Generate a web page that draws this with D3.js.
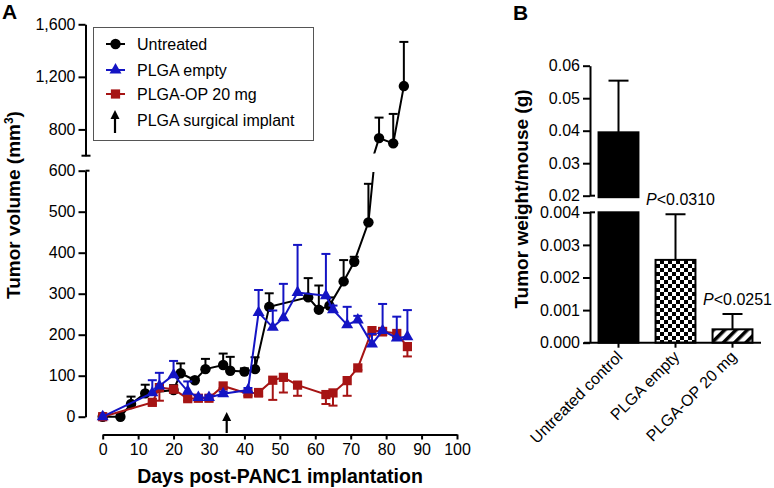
<!DOCTYPE html>
<html><head><meta charset="utf-8">
<script src="https://cdn.jsdelivr.net/npm/d3@7"></script>
<style>
body{margin:0;background:#fff;}
svg{display:block;font-family:"Liberation Sans",Arial,sans-serif;}
</style></head>
<body><svg id="c" width="774" height="488"></svg>
<script>
// ---------- Data: panel A (tumor volume, mm³) ----------
const daysUntreated = [0,5,8,12,20,22,26,29,34,36,40,43,47,58,61,64,68,71,75,78,82,85];
const volUntreated  = [0,0,31,57,65,106,89,116,126,112,110,116,268,291,261,271,330,378,474,734,694,1130];
const errUntreated  = [0,0,18,21,12,24,6,25,28,34,8,29,33,47,59,20,52,12,94,156,224,336];

const daysEmpty = [0,14,16,20,24,27,30,34,41,44,48,51,55,63,65,69,72,76,79,83,86];
const volEmpty  = [0,58,75,102,62,47,47,56,65,254,218,241,303,295,261,224,236,177,210,192,195];
const errEmpty  = [0,31,32,34,24,5,5,5,5,55,41,83,116,102,10,44,10,25,65,52,65];

const daysOP = [0,14,16,20,24,27,30,34,41,44,48,51,55,63,65,69,72,76,79,83,86];
const volOP  = [0,35,71,67,44,45,45,75,56,59,89,96,77,54,58,88,119,210,208,203,171];
const errOP  = [0,5,32,5,5,5,5,5,5,10,48,37,26,23,31,37,5,10,10,10,24];

const seriesNames = ["Untreated","PLGA empty","PLGA-OP 20 mg"];
const implantDay = 35;
const xTicksA = [0,10,20,30,40,50,60,70,80,90,100];
const yTicksLowA = [0,100,200,300,400,500,600];
const yTicksHighA = [800,1200,1600];

// ---------- Data: panel B (tumor weight, g) ----------
const groupsB = ["Untreated control","PLGA empty","PLGA-OP 20 mg"];
const weightB = [0.0395,0.00254,0.00041];
const errB    = [0.0159,0.0014,0.00047];
const pLabelsB = ["","0.0310","0.0251"];
const yTicksHighB = [0.02,0.03,0.04,0.05,0.06];
const yTicksLowB = [0,0.001,0.002,0.003,0.004];

// ---------- Drawing ----------
const svg = d3.select("#c");
const BLUE = "#1414c4", RED = "#a61414";
const defs = svg.append("defs");

// Panel A scales
const xA = d3.scaleLinear([0,100],[102.7,457]);
const yLowA = d3.scaleLinear([0,600],[416.7,170.7]);
const yHighA = d3.scaleLinear([600,1600],[155.7,24.3]);
const axisXA = 85.5;

defs.append("clipPath").attr("id","clipLowA").append("rect")
  .attr("x",90).attr("y",172).attr("width",380).attr("height",262);
defs.append("clipPath").attr("id","clipHighA").append("rect")
  .attr("x",90).attr("y",10).attr("width",380).attr("height",143.5);

// Panel A axes
const gA = svg.append("g");
const xAxisA = gA.append("g").attr("transform","translate(0,434.5)")
  .call(d3.axisBottom(xA).tickValues(xTicksA).tickSize(5).tickSizeOuter(0).tickPadding(4));
const yLowAxis = gA.append("g").attr("transform",`translate(${axisXA},0)`)
  .call(d3.axisLeft(yLowA).tickValues(yTicksLowA).tickSize(7).tickSizeOuter(0).tickPadding(3));
const yHighAxis = gA.append("g").attr("transform",`translate(${axisXA},0)`)
  .call(d3.axisLeft(yHighA).tickValues(yTicksHighA).tickFormat(d3.format(",")).tickSize(7).tickSizeOuter(0).tickPadding(3));
// break marks
gA.append("line").attr("x1",axisXA-4).attr("x2",axisXA+5).attr("y1",yHighA(600)).attr("y2",yHighA(600));
gA.append("line").attr("x1",axisXA).attr("x2",axisXA+4).attr("y1",yLowA(600)).attr("y2",yLowA(600));
gA.selectAll("line").attr("stroke","#000").attr("stroke-width",2);

function styleAxis(g){
  g.selectAll("path.domain").attr("stroke","#000").attr("stroke-width",2);
  g.selectAll(".tick line").attr("stroke","#000").attr("stroke-width",2);
  g.selectAll(".tick text").attr("font-size",16).attr("fill","#000")
   .attr("font-family","'Liberation Sans',Arial,sans-serif");
}
[xAxisA,yLowAxis,yHighAxis].forEach(styleAxis);

// Titles panel A
svg.append("text").attr("x",2).attr("y",19).attr("font-size",21).attr("font-weight","bold").text("A");
svg.append("text").attr("x",280).attr("y",483).attr("text-anchor","middle")
  .attr("font-size",19.5).attr("font-weight","bold").text("Days post-PANC1 implantation");
const yt = svg.append("text").attr("transform","translate(20,205) rotate(-90)")
  .attr("text-anchor","middle").attr("font-size",19).attr("font-weight","bold");
yt.append("tspan").text("Tumor volume (mm");
yt.append("tspan").attr("font-size",12).attr("dy",-7).text("3");
yt.append("tspan").attr("dy",7).text(")");

// series drawing
const series = [
  {name:seriesNames[0], days:daysUntreated, vals:volUntreated, errs:errUntreated, color:"#000", sym:d3.symbolCircle, size:85, dir:1},
  {name:seriesNames[2], days:daysOP, vals:volOP, errs:errOP, color:RED, sym:d3.symbolSquare, size:85, dir:-1},
  {name:seriesNames[1], days:daysEmpty, vals:volEmpty, errs:errEmpty, color:BLUE, sym:d3.symbolTriangle, size:62, dir:1},
];
function yOf(v){ return v<=600 ? yLowA(v) : yHighA(v); }
const plot = svg.append("g");
series.forEach(s=>{
  const pts = s.days.map((d,i)=>({d, v:s.vals[i], e:s.errs[i]}));
  const g = plot.append("g");
  // error bars
  pts.forEach(p=>{
    if(p.e<=0) return;
    const tip = p.v + s.dir*p.e;
    const sc = p.v<=600 ? yLowA : yHighA;
    const x = xA(p.d);
    g.append("line").attr("x1",x).attr("x2",x).attr("y1",sc(p.v)).attr("y2",sc(tip))
      .attr("stroke",s.color).attr("stroke-width",2);
    g.append("line").attr("x1",x-4.5).attr("x2",x+4.5).attr("y1",sc(tip)).attr("y2",sc(tip))
      .attr("stroke",s.color).attr("stroke-width",2);
  });
  // lines (broken axis)
  const lowLine = d3.line().x(p=>xA(p.d)).y(p=>yLowA(p.v));
  const highLine = d3.line().x(p=>xA(p.d)).y(p=>yHighA(p.v));
  g.append("path").attr("d",lowLine(pts)).attr("fill","none").attr("stroke",s.color)
    .attr("stroke-width",2).attr("clip-path","url(#clipLowA)");
  if(pts.some(p=>p.v>600)){
    g.append("path").attr("d",highLine(pts)).attr("fill","none").attr("stroke",s.color)
      .attr("stroke-width",2).attr("clip-path","url(#clipHighA)");
  }
  // markers
  g.selectAll("path.m").data(pts).join("path").attr("class","m")
    .attr("d",d3.symbol(s.sym,s.size))
    .attr("transform",p=>`translate(${xA(p.d)},${yOf(p.v)})`)
    .attr("fill",s.color);
});

// implant arrow
function arrow(g,x,yTop,yBot){
  g.append("line").attr("x1",x).attr("x2",x).attr("y1",yTop+6).attr("y2",yBot)
    .attr("stroke","#000").attr("stroke-width",2.2);
  g.append("path").attr("d",`M${x},${yTop} L${x-4.5},${yTop+9} L${x+4.5},${yTop+9} Z`).attr("fill","#000");
}
arrow(svg,xA(implantDay),412,433);

// legend
const lg = svg.append("g");
lg.append("rect").attr("x",93.5).attr("y",27.5).attr("width",220).attr("height",113)
  .attr("fill","#fff").attr("stroke","#555").attr("stroke-width",1);
const legendItems = [
  {label:seriesNames[0], color:"#000", sym:d3.symbolCircle, size:85, y:44},
  {label:seriesNames[1], color:BLUE, sym:d3.symbolTriangle, size:62, y:70},
  {label:seriesNames[2], color:RED, sym:d3.symbolSquare, size:85, y:94},
];
legendItems.forEach(it=>{
  lg.append("line").attr("x1",106).attr("x2",125).attr("y1",it.y).attr("y2",it.y)
    .attr("stroke",it.color).attr("stroke-width",2);
  lg.append("path").attr("d",d3.symbol(it.sym,it.size)).attr("transform",`translate(115.5,${it.y})`).attr("fill",it.color);
  lg.append("text").attr("x",137).attr("y",it.y+6).attr("font-size",16).text(it.label);
});
arrow(lg,115,110,133);
lg.append("text").attr("x",137).attr("y",126).attr("font-size",16).text("PLGA surgical implant");

// ---------- Panel B ----------
const axisXB = 590;
const xB = d3.scaleBand(groupsB,[590,761]).paddingInner(0.3).paddingOuter(0.15);
const yHighB = d3.scaleLinear([0.02,0.06],[195.7,65.7]);
const yLowB = d3.scaleLinear([0,0.004],[342.7,212.3]);

// patterns
const chk = defs.append("pattern").attr("id","checker").attr("patternUnits","userSpaceOnUse")
  .attr("width",8).attr("height",8);
chk.append("rect").attr("width",8).attr("height",8).attr("fill","#fff");
chk.append("rect").attr("width",4).attr("height",4).attr("fill","#000");
chk.append("rect").attr("x",4).attr("y",4).attr("width",4).attr("height",4).attr("fill","#000");
const str = defs.append("pattern").attr("id","stripes").attr("patternUnits","userSpaceOnUse")
  .attr("width",8).attr("height",8).attr("patternTransform","rotate(45)");
str.append("rect").attr("width",8).attr("height",8).attr("fill","#fff");
str.append("rect").attr("width",3.5).attr("height",8).attr("fill","#000");
const fillsB = ["#000","url(#checker)","url(#stripes)"];

const gB = svg.append("g");
groupsB.forEach((g,i)=>{
  const x0 = xB(g), w = xB.bandwidth(), v = weightB[i];
  if(v>0.004){
    gB.append("rect").attr("x",x0).attr("y",yHighB(v)).attr("width",w).attr("height",yHighB(0.02)-yHighB(v)+1.5)
      .attr("fill",fillsB[i]).attr("stroke","#000").attr("stroke-width",2);
    gB.append("rect").attr("x",x0).attr("y",yLowB(0.004)).attr("width",w).attr("height",yLowB(0)-yLowB(0.004))
      .attr("fill",fillsB[i]).attr("stroke","#000").attr("stroke-width",2);
  } else {
    gB.append("rect").attr("x",x0).attr("y",yLowB(v)).attr("width",w).attr("height",yLowB(0)-yLowB(v))
      .attr("fill",fillsB[i]).attr("stroke","#000").attr("stroke-width",2);
  }
  const sc = v>0.004 ? yHighB : yLowB;
  const cx = x0 + w/2, tip = v + errB[i];
  gB.append("line").attr("x1",cx).attr("x2",cx).attr("y1",sc(v)).attr("y2",sc(tip)).attr("stroke","#000").attr("stroke-width",2);
  gB.append("line").attr("x1",cx-10).attr("x2",cx+10).attr("y1",sc(tip)).attr("y2",sc(tip)).attr("stroke","#000").attr("stroke-width",2);
  if(pLabelsB[i]){
    const t = gB.append("text").attr("x",cx+5).attr("y",sc(tip)-9).attr("text-anchor","middle").attr("font-size",16);
    t.append("tspan").attr("font-style","italic").text("P");
    t.append("tspan").text("<"+pLabelsB[i]);
  }
});

const xAxisB = gB.append("g").attr("transform","translate(0,342.7)")
  .call(d3.axisBottom(xB).tickSize(5).tickSizeOuter(0));
xAxisB.select("path.domain").remove();
xAxisB.append("line").attr("x1",584).attr("x2",761).attr("y1",0).attr("y2",0).attr("stroke","#000").attr("stroke-width",2);
styleAxis(xAxisB);
xAxisB.selectAll(".tick text").attr("text-anchor","end").attr("dy",0).attr("x",0).attr("y",0)
  .attr("transform","translate(5,15) rotate(-45)");

const yLowAxisB = gB.append("g").attr("transform",`translate(${axisXB},0)`)
  .call(d3.axisLeft(yLowB).tickValues(yTicksLowB).tickFormat(d3.format(".3f")).tickSize(7).tickSizeOuter(0).tickPadding(3));
const yHighAxisB = gB.append("g").attr("transform",`translate(${axisXB},0)`)
  .call(d3.axisLeft(yHighB).tickValues(yTicksHighB).tickFormat(d3.format(".2f")).tickSize(7).tickSizeOuter(0).tickPadding(3));
[yLowAxisB,yHighAxisB].forEach(styleAxis);
gB.append("line").attr("x1",axisXB).attr("x2",axisXB+5).attr("y1",yHighB(0.02)).attr("y2",yHighB(0.02)).attr("stroke","#000").attr("stroke-width",2);
gB.append("line").attr("x1",axisXB).attr("x2",axisXB+5).attr("y1",yLowB(0.004)).attr("y2",yLowB(0.004)).attr("stroke","#000").attr("stroke-width",2);

svg.append("text").attr("x",513).attr("y",20).attr("font-size",21).attr("font-weight","bold").text("B");
svg.append("text").attr("transform","translate(528,199) rotate(-90)")
  .attr("text-anchor","middle").attr("font-size",19).attr("font-weight","bold").text("Tumor weight/mouse (g)");
</script></body></html>
